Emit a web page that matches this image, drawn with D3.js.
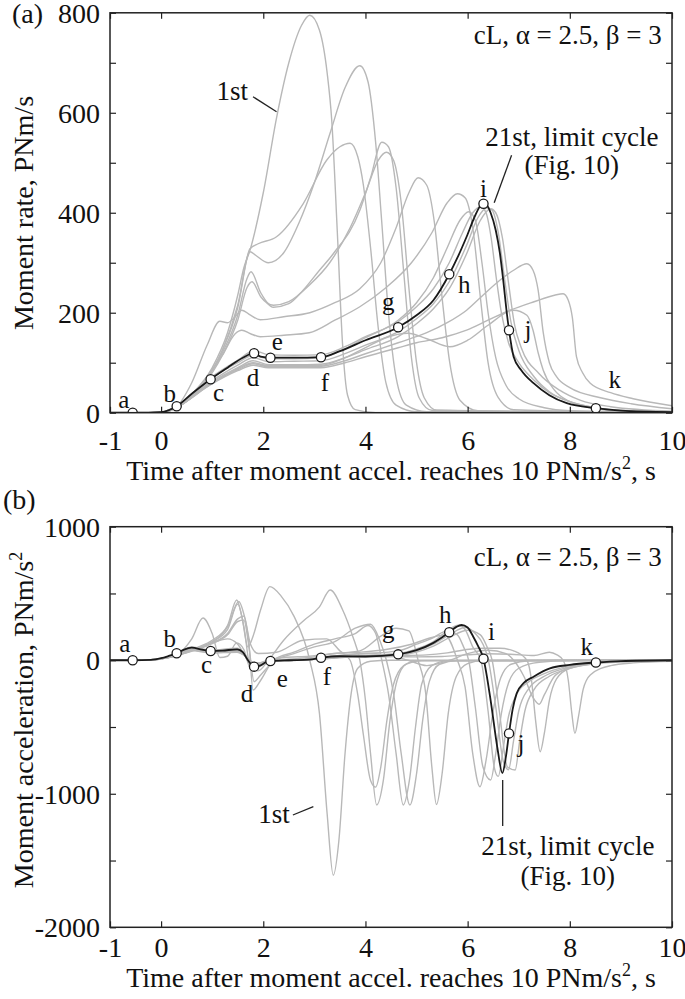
<!DOCTYPE html>
<html>
<head>
<meta charset="utf-8">
<script src="https://cdnjs.cloudflare.com/ajax/libs/d3/7.8.5/d3.min.js"></script>
<style>
body { margin: 0; background: #fff; }
svg { display: block; }
text { font-family: "Liberation Serif", "Times New Roman", serif; fill: #111; }
</style>
</head>
<body>
<svg id="chart" width="685" height="999"></svg>
<script>
// ---- data: [time s, value] ----
var xTicks = [-1, 0, 2, 4, 6, 8, 10];
var rateTicks = [0, 100, 200, 300, 400, 500, 600, 700, 800];
var accelTicks = [-2000, -1500, -1000, -500, 0, 500, 1000];

var markNames = ["a", "b", "c", "d", "e", "f", "g", "h", "i", "j", "k"];
var markT = [-0.556, 0.305, 0.97, 1.82, 2.14, 3.13, 4.64, 5.64, 6.31, 6.81, 8.51];
var markRate = [0, 13, 67, 119, 110, 111, 171, 277, 418, 165, 9];
var markAccel = [0, 52, 69, -48, -6, 19, 44, 209, 11, -548, -17];

// 21st cycle (limit cycle)
var limitRate = [[-1,0],[-0.556,0],[-0.2,0],[0,1],[0.305,13],[0.6,38],[0.97,67],[1.3,90],[1.6,110],[1.82,119],[1.95,112],[2.14,110],[2.6,110],[3.13,111],[3.5,123],[4.0,145],[4.64,171],[5.0,195],[5.33,225],[5.64,277],[5.8,310],[5.98,352],[6.15,395],[6.25,414],[6.31,418],[6.37,416],[6.45,400],[6.55,365],[6.63,320],[6.7,262],[6.76,205],[6.81,165],[6.9,112],[7.05,85],[7.29,59],[7.6,35],[7.94,19],[8.51,9],[9.0,4],[10,1]];
var limitAccel = [[-1,0],[-0.556,0],[-0.2,2],[0,15],[0.15,32],[0.305,52],[0.45,80],[0.6,94],[0.8,80],[0.97,69],[1.2,72],[1.49,82],[1.6,60],[1.7,0],[1.82,-48],[1.95,-38],[2.05,-15],[2.14,-6],[2.5,0],[2.9,4],[3.13,19],[3.5,30],[4.0,28],[4.64,44],[5.0,75],[5.33,130],[5.64,209],[5.78,250],[5.88,264],[6.0,245],[6.11,176],[6.2,110],[6.31,11],[6.45,-300],[6.58,-650],[6.68,-845],[6.75,-720],[6.81,-548],[6.88,-370],[6.96,-248],[7.1,-170],[7.29,-123],[7.61,-61],[8.0,-35],[8.51,-17],[9.0,-6],[10,0]];

// earlier cycles, moment rate (PNm/s)
var rate1st = [[-1,0],[0,0],[0.3,10],[0.7,45],[1.0,90],[1.3,160],[1.5,235],[1.62,290],[1.74,325],[2.0,440],[2.26,590],[2.5,700],[2.75,775],[2.91,795],[3.1,765],[3.25,680],[3.34,585],[3.45,360],[3.55,140],[3.65,35],[3.8,6],[4.2,0],[10,0]];
var rate2 = [[-1,0],[0,0],[0.3,10],[0.8,55],[1.2,125],[1.5,215],[1.74,322],[1.85,315],[2.1,300],[2.4,320],[2.7,380],[3.0,460],[3.31,560],[3.6,650],[3.89,694],[4.05,662],[4.2,540],[4.32,380],[4.45,200],[4.6,70],[4.8,15],[5.2,2],[10,0]];
var rate3 = [[-1,0],[0,0],[0.3,10],[0.8,55],[1.2,125],[1.5,210],[1.74,328],[1.9,338],[2.26,352],[2.78,418],[3.24,505],[3.5,532],[3.7,539],[3.85,512],[3.96,455],[4.1,330],[4.25,170],[4.4,60],[4.6,15],[5.0,2],[10,0]];
var rate4 = [[-1,0],[0,0],[0.3,10],[0.8,55],[1.2,120],[1.5,195],[1.68,268],[1.76,282],[1.95,240],[2.2,211],[2.5,218],[2.78,245],[3.1,285],[3.37,318],[3.89,405],[4.1,470],[4.32,541],[4.45,532],[4.6,450],[4.75,280],[4.9,110],[5.05,30],[5.3,5],[10,0]];
var rate5 = [[-1,0],[0,0],[0.3,10],[0.8,52],[1.2,115],[1.5,185],[1.68,250],[1.78,262],[1.95,232],[2.2,215],[2.5,222],[2.9,255],[3.3,300],[3.7,370],[4.0,440],[4.25,505],[4.41,521],[4.55,505],[4.7,420],[4.85,250],[5.0,100],[5.15,30],[5.4,5],[10,0]];
var rate6 = [[-1,0],[0,0],[0.3,12],[0.6,60],[0.9,135],[1.15,183],[1.3,180],[1.45,192],[1.58,205],[1.75,195],[1.94,186],[2.4,192],[2.91,200],[3.4,220],[3.89,248],[4.3,300],[4.6,370],[4.85,440],[5.03,470],[5.2,455],[5.35,380],[5.5,230],[5.65,100],[5.85,25],[6.2,4],[10,0]];
var rate7 = [[-1,0],[0,0],[0.3,10],[0.8,60],[1.2,115],[1.45,158],[1.58,165],[1.75,158],[1.94,152],[2.4,155],[2.9,160],[3.4,185],[3.89,212],[4.4,250],[4.9,300],[5.3,360],[5.6,420],[5.8,438],[5.95,430],[6.1,370],[6.25,230],[6.4,100],[6.6,30],[6.9,6],[10,0]];
var rate8 = [[-1,0],[-0.5,0],[0,1],[0.3,13],[0.97,68],[1.5,100],[1.8,115],[2.1,108],[2.6,108],[3.13,110],[3.6,128],[4.0,150],[4.64,185],[5.0,220],[5.33,270],[5.6,330],[5.85,385],[6.02,402],[6.15,385],[6.28,300],[6.4,200],[6.55,110],[6.75,55],[7.0,28],[7.5,10],[8,4],[10,0]];
var rate9 = [[-1,0],[-0.5,0],[0,1],[0.3,13],[0.97,70],[1.5,105],[1.82,124],[2.1,116],[2.6,115],[3.13,116],[3.6,132],[4.0,152],[4.64,182],[5.0,212],[5.33,248],[5.64,300],[5.9,360],[6.1,400],[6.26,412],[6.36,400],[6.46,350],[6.56,270],[6.66,200],[6.8,140],[7.0,100],[7.3,65],[7.6,40],[8.0,22],[8.5,10],[9,4],[10,1]];
var rate10 = [[-1,0],[-0.5,0],[0,1],[0.3,12],[0.97,62],[1.5,95],[1.8,110],[2.1,102],[2.6,103],[3.13,104],[3.6,118],[4.0,135],[4.64,162],[5.0,188],[5.33,218],[5.64,262],[5.98,335],[6.2,390],[6.38,410],[6.48,405],[6.6,360],[6.72,270],[6.85,180],[7.0,125],[7.3,72],[7.6,42],[8.0,22],[8.5,10],[9.0,5],[10,2]];
var rate11 = [[-1,0],[-0.5,0],[0,1],[0.3,12],[0.97,60],[1.5,90],[1.8,104],[2.1,96],[2.6,96],[3.13,97],[3.6,110],[4.0,126],[4.64,152],[5.0,178],[5.33,208],[5.64,248],[5.98,318],[6.25,385],[6.45,408],[6.55,400],[6.68,350],[6.8,260],[6.92,175],[7.05,130],[7.4,78],[7.8,45],[8.2,25],[8.8,12],[10,3]];
var rate12 = [[-1,0],[-0.5,0],[0,1],[0.3,11],[0.97,58],[1.5,86],[1.8,98],[2.1,92],[2.6,92],[3.13,93],[3.6,104],[4.0,118],[4.64,140],[5.2,160],[5.6,180],[5.98,205],[6.3,235],[6.63,265],[6.9,285],[7.16,298],[7.28,285],[7.38,245],[7.48,160],[7.6,100],[7.74,72],[8.0,50],[8.6,30],[9.2,18],[10,8]];
var rate13 = [[-1,0],[-0.5,0],[0,1],[0.3,11],[0.97,56],[1.5,84],[1.8,95],[2.1,90],[2.6,90],[3.13,90],[3.6,100],[4.0,112],[4.64,130],[5.0,140],[5.5,150],[5.98,165],[6.4,185],[6.83,205],[7.3,222],[7.7,235],[7.87,238],[7.97,225],[8.05,190],[8.13,112],[8.25,80],[8.4,59],[8.8,40],[9.24,28],[10,14]];
var rate14 = [[-1,0],[-0.5,0],[0,1],[0.3,11],[0.97,57],[1.5,88],[1.8,100],[2.1,94],[2.6,94],[3.13,95],[3.6,110],[4.0,130],[4.4,150],[4.83,159],[5.2,148],[5.65,132],[6.0,145],[6.4,175],[6.9,205],[7.16,195],[7.28,165],[7.38,120],[7.48,85],[7.7,45],[8.0,22],[8.5,8],[9,3],[10,1]];

// earlier cycles, moment acceleration (PNm/s^2)
var accel1st = [[-1,0],[-0.3,0],[0,10],[0.3,35],[0.7,95],[1.0,150],[1.3,260],[1.48,451],[1.58,330],[1.7,100],[1.8,180],[1.95,380],[2.13,551],[2.35,480],[2.6,330],[2.91,0],[3.1,-400],[3.25,-1150],[3.37,-1610],[3.48,-1350],[3.6,-700],[3.72,-250],[3.85,-60],[4.1,-8],[4.5,0],[10,0]];
var accel2 = [[-1,0],[-0.3,0],[0,10],[0.3,35],[0.7,90],[1.0,140],[1.3,230],[1.5,420],[1.62,250],[1.75,-60],[1.9,-80],[2.1,0],[2.4,150],[2.8,300],[3.1,400],[3.31,526],[3.55,380],[3.75,180],[3.89,0],[4.0,-300],[4.1,-700],[4.22,-1084],[4.35,-900],[4.48,-450],[4.62,-150],[4.8,-30],[5.1,-3],[10,0]];
var accel3 = [[-1,0],[-0.3,0],[0,10],[0.3,35],[0.7,85],[1.0,135],[1.3,250],[1.52,440],[1.65,300],[1.75,120],[1.9,50],[2.26,60],[2.78,150],[3.24,160],[3.5,70],[3.7,0],[3.85,-260],[3.96,-560],[4.1,-900],[4.2,-950],[4.3,-800],[4.42,-450],[4.55,-180],[4.75,-40],[5.0,-5],[10,0]];
var accel4 = [[-1,0],[-0.3,0],[0,10],[0.3,35],[0.7,85],[1.0,130],[1.3,200],[1.5,310],[1.62,330],[1.72,120],[1.8,-223],[1.95,-150],[2.2,0],[2.6,60],[3.0,120],[3.4,160],[3.8,200],[4.05,260],[4.2,200],[4.32,0],[4.45,-250],[4.6,-700],[4.74,-1084],[4.86,-900],[4.98,-500],[5.1,-180],[5.3,-40],[5.6,-5],[10,0]];
var accel5 = [[-1,0],[-0.3,0],[0,10],[0.3,35],[0.7,80],[1.0,125],[1.3,190],[1.5,290],[1.62,300],[1.72,100],[1.82,-160],[1.95,-110],[2.2,-10],[2.6,50],[3.0,100],[3.4,140],[3.8,240],[4.1,270],[4.28,150],[4.41,0],[4.55,-250],[4.7,-700],[4.87,-1084],[5.0,-850],[5.12,-450],[5.25,-160],[5.45,-30],[5.8,-3],[10,0]];
var accel6 = [[-1,0],[-0.3,0],[0,12],[0.3,40],[0.6,160],[0.82,316],[1.0,200],[1.15,20],[1.3,30],[1.48,130],[1.62,80],[1.75,-60],[1.94,-20],[2.4,20],[2.9,30],[3.4,50],[3.89,70],[4.3,180],[4.6,240],[4.85,220],[5.03,0],[5.18,-250],[5.3,-800],[5.39,-1080],[5.5,-850],[5.62,-400],[5.78,-120],[6.0,-25],[6.3,-3],[10,0]];
var accel7 = [[-1,0],[-0.3,0],[0,10],[0.3,35],[0.7,90],[1.0,130],[1.3,160],[1.5,120],[1.65,30],[1.8,-40],[1.94,-20],[2.4,5],[2.9,20],[3.4,50],[3.89,60],[4.4,80],[4.9,120],[5.3,170],[5.55,190],[5.8,0],[5.95,-200],[6.1,-700],[6.24,-947],[6.36,-750],[6.5,-380],[6.65,-130],[6.85,-30],[7.2,-4],[10,0]];
var accel8 = [[-1,0],[-0.5,0],[-0.1,5],[0.3,50],[0.6,95],[0.97,72],[1.49,85],[1.6,55],[1.75,-30],[1.85,-50],[2.0,-25],[2.14,-5],[2.6,0],[3.13,20],[3.6,40],[4.0,50],[4.64,70],[5.0,120],[5.33,170],[5.6,220],[5.8,190],[5.92,100],[6.02,0],[6.15,-350],[6.3,-800],[6.45,-897],[6.55,-700],[6.66,-400],[6.8,-170],[7.0,-60],[7.4,-15],[8,-3],[10,0]];
var accel9 = [[-1,0],[-0.5,0],[-0.1,5],[0.3,50],[0.6,100],[0.97,75],[1.49,90],[1.6,60],[1.75,-40],[1.85,-60],[2.0,-30],[2.14,-8],[2.6,0],[3.13,18],[3.6,32],[4.0,35],[4.64,50],[5.0,85],[5.33,140],[5.6,220],[5.82,262],[5.95,230],[6.1,100],[6.26,0],[6.4,-380],[6.52,-800],[6.6,-870],[6.7,-650],[6.8,-420],[6.95,-260],[7.2,-160],[7.5,-100],[7.9,-50],[8.5,-15],[9.2,-4],[10,0]];
var accel10 = [[-1,0],[-0.5,0],[-0.1,5],[0.3,45],[0.6,85],[0.97,65],[1.49,75],[1.62,50],[1.8,-30],[1.95,-35],[2.14,-5],[2.6,0],[3.13,12],[3.6,28],[4.0,30],[4.64,40],[5.0,70],[5.33,120],[5.64,190],[5.95,245],[6.15,200],[6.3,120],[6.4,10],[6.55,-350],[6.7,-760],[6.8,-820],[6.9,-600],[7.0,-380],[7.2,-210],[7.5,-120],[7.9,-60],[8.5,-18],[9.2,-5],[10,0]];
var accel11 = [[-1,0],[-0.5,0],[-0.1,5],[0.3,45],[0.6,80],[0.97,62],[1.49,70],[1.62,45],[1.8,-20],[1.95,-30],[2.14,-5],[2.6,0],[3.13,10],[3.6,25],[4.0,28],[4.64,38],[5.0,62],[5.33,105],[5.64,170],[6.0,225],[6.25,190],[6.38,100],[6.48,0],[6.62,-380],[6.78,-800],[6.93,-822],[7.02,-600],[7.12,-380],[7.3,-220],[7.6,-120],[8.0,-60],[8.6,-20],[9.3,-5],[10,0]];
var accel12 = [[-1,0],[-0.5,0],[-0.1,5],[0.3,42],[0.6,75],[0.97,58],[1.49,62],[1.62,40],[1.8,-20],[1.95,-25],[2.14,-5],[2.6,0],[3.13,10],[3.6,25],[4.0,30],[4.64,35],[5.2,40],[5.6,55],[5.98,80],[6.3,90],[6.63,90],[6.9,70],[7.16,0],[7.25,-150],[7.33,-450],[7.42,-685],[7.5,-550],[7.6,-300],[7.74,-140],[8.0,-60],[8.6,-22],[9.2,-12],[10,-5]];
var accel13 = [[-1,0],[-0.5,0],[-0.1,5],[0.3,40],[0.6,72],[0.97,56],[1.49,60],[1.62,38],[1.8,-15],[1.95,-20],[2.14,-5],[2.6,0],[3.13,8],[3.6,22],[4.0,25],[4.64,28],[5.0,25],[5.5,28],[5.98,40],[6.4,48],[6.83,45],[7.3,35],[7.6,60],[7.75,40],[7.87,0],[7.97,-150],[8.04,-400],[8.1,-548],[8.17,-420],[8.26,-220],[8.4,-110],[8.8,-40],[9.24,-20],[10,-8]];
var accel14 = [[-1,0],[-0.5,0],[-0.1,5],[0.3,42],[0.6,78],[0.97,58],[1.49,65],[1.62,42],[1.8,-18],[1.95,-25],[2.14,-5],[2.6,0],[3.13,15],[3.6,40],[4.0,50],[4.4,40],[4.83,0],[5.2,-40],[5.65,0],[6.0,50],[6.4,75],[6.75,50],[6.9,0],[7.1,-120],[7.28,-280],[7.4,-330],[7.5,-260],[7.7,-120],[8.0,-55],[8.5,-15],[9,-4],[10,0]];

var rateCycles = [rate1st, rate2, rate3, rate4, rate5, rate6, rate7, rate8, rate9, rate10, rate11, rate12, rate13, rate14];
var accelCycles = [accel1st, accel2, accel3, accel4, accel5, accel6, accel7, accel8, accel9, accel10, accel11, accel12, accel13, accel14];

// ---- layout ----
var left = 110, right = 672;
var svg = d3.select("#chart");
var x = d3.scaleLinear().domain([-1, 10]).range([left, right]);
var yA = d3.scaleLinear().domain([0, 800]).range([412.7, 12.8]);
var yB = d3.scaleLinear().domain([-2000, 1000]).range([927.3, 526.7]);

// label offsets (px) of the a..k letters from their circles
var offA = [[-9,-5],[-7,-4],[8,22],[-1,33],[7,-8],[4,34],[-10,-17],[15,19],[0,-7],[19,8],[19,-20]];
var offB = [[-8,-8],[-7,-6],[-4,22],[-7,35],[12,26],[6,27],[-10,-16],[-4,-9],[8,-19],[12,19],[-9,-8]];

function panel(id, y, cycles, limit, markVals, off, yTickVals, labelEvery, xLabY, yTitle, yTitleY) {
  var top = y.range()[1], bottom = y.range()[0];
  var g = svg.append("g").attr("id", id);

  g.append("clipPath").attr("id", id + "clip")
    .append("rect").attr("x", left).attr("y", top).attr("width", right - left).attr("height", bottom - top);

  var line = d3.line()
    .x(function (d) { return x(d[0]); })
    .y(function (d) { return y(d[1]); })
    .curve(d3.curveMonotoneX);

  var plot = g.append("g").attr("clip-path", "url(#" + id + "clip)");
  plot.selectAll(".cycle").data(cycles).enter().append("path")
    .attr("class", "cycle")
    .attr("fill", "none")
    .attr("stroke", "#b8b8b8")
    .attr("stroke-width", 1.4)
    .attr("d", line);

  plot.append("path")
    .datum(limit)
    .attr("fill", "none")
    .attr("stroke", "#1a1a1a")
    .attr("stroke-width", 1.8)
    .attr("d", line);

  plot.selectAll(".mark").data(markT).enter().append("circle")
    .attr("class", "mark")
    .attr("cx", function (d) { return x(d); })
    .attr("cy", function (d, i) { return y(markVals[i]); })
    .attr("r", 4.6)
    .attr("fill", "#fff")
    .attr("stroke", "#1a1a1a")
    .attr("stroke-width", 1.3);

  g.selectAll(".mlab").data(markNames).enter().append("text")
    .attr("class", "mlab")
    .attr("x", function (d, i) { return x(markT[i]) + off[i][0]; })
    .attr("y", function (d, i) { return y(markVals[i]) + off[i][1]; })
    .attr("text-anchor", "middle")
    .attr("font-size", 25)
    .text(function (d) { return d; });

  // axes, ticks pointing in
  var bx = g.append("g").attr("transform", "translate(0," + bottom + ")")
    .call(d3.axisBottom(x).tickValues(xTicks).tickSize(-6).tickFormat(function (d) { return String(d); }));
  bx.selectAll("text").attr("y", xLabY).attr("dy", 0);
  g.append("g").attr("transform", "translate(0," + top + ")")
    .call(d3.axisTop(x).tickValues(xTicks).tickSize(-6).tickFormat(""));
  var ly = g.append("g").attr("transform", "translate(" + left + ",0)")
    .call(d3.axisLeft(y).tickValues(yTickVals).tickSize(-6).tickPadding(10)
      .tickFormat(function (d) { return d % labelEvery === 0 ? String(d) : ""; }));
  ly.selectAll("text").attr("dy", "0.34em");
  g.append("g").attr("transform", "translate(" + right + ",0)")
    .call(d3.axisRight(y).tickValues(yTickVals).tickSize(-6).tickFormat(""));

  g.selectAll(".domain").remove();
  g.selectAll(".tick line").attr("stroke", "#222").attr("stroke-width", 1.2);
  g.selectAll(".tick text").attr("font-family", "Liberation Serif, serif").attr("font-size", 28).attr("fill", "#111");

  g.append("rect")
    .attr("x", left).attr("y", top).attr("width", right - left).attr("height", bottom - top)
    .attr("fill", "none").attr("stroke", "#222").attr("stroke-width", 1.5);

  // axis titles
  var xt = g.append("text")
    .attr("x", (left + right) / 2)
    .attr("y", bottom + xLabY + 30)
    .attr("text-anchor", "middle")
    .attr("font-size", 28);
  xt.append("tspan").text("Time after moment accel. reaches 10 PNm/s");
  xt.append("tspan").attr("font-size", 18).attr("dy", -11).text("2");
  xt.append("tspan").attr("dy", 11).text(", s");

  var yt = g.append("text")
    .attr("transform", "translate(33," + yTitleY + ") rotate(-90)")
    .attr("text-anchor", "middle")
    .attr("font-size", 28);
  yt.append("tspan").text(yTitle);
  if (id === "b") {
    yt.append("tspan").attr("font-size", 18).attr("dy", -11).text("2");
  }

  g.append("text")
    .attr("x", x(9.8)).attr("y", y(y === yA ? 737 : 705))
    .attr("text-anchor", "end")
    .attr("font-size", 27)
    .text("cL, \u03b1 = 2.5, \u03b2 = 3");

  return g;
}

var ga = panel("a", yA, rateCycles, limitRate, markRate, offA, rateTicks, 200, 37.3, "Moment rate, PNm/s", 213);
var gb = panel("b", yB, accelCycles, limitAccel, markAccel, offB, accelTicks, 1000, 29.7, "Moment acceleration, PNm/s", 720);

function note(g, y, lines, tx, ty, lh, anchor, leader) {
  var t = g.append("text").attr("font-size", 27).attr("text-anchor", anchor);
  lines.forEach(function (s, i) {
    t.append("tspan").attr("x", x(tx)).attr("y", y(ty) + i * lh).text(s);
  });
  g.append("line")
    .attr("x1", x(leader[0])).attr("y1", y(leader[1]))
    .attr("x2", x(leader[2])).attr("y2", y(leader[3]))
    .attr("stroke", "#222").attr("stroke-width", 1.3);
}

note(ga, yA, ["1st"], 1.70, 625, 0, "end", [1.80, 632, 2.26, 602]);
note(ga, yA, ["21st, limit cycle", "(Fig. 10)"], 8.04, 533, 28, "middle", [6.86, 515, 6.52, 420]);
note(gb, yB, ["1st"], 2.52, -1219, 0, "end", [2.58, -1159, 2.98, -1097]);
note(gb, yB, ["21st, limit cycle", "(Fig. 10)"], 7.96, -1458, 30, "middle", [6.686, -897, 6.686, -1242]);

svg.append("text").attr("x", 12).attr("y", 23).attr("font-size", 28).text("(a)");
svg.append("text").attr("x", 3).attr("y", 509).attr("font-size", 28).text("(b)");
</script>
</body>
</html>
